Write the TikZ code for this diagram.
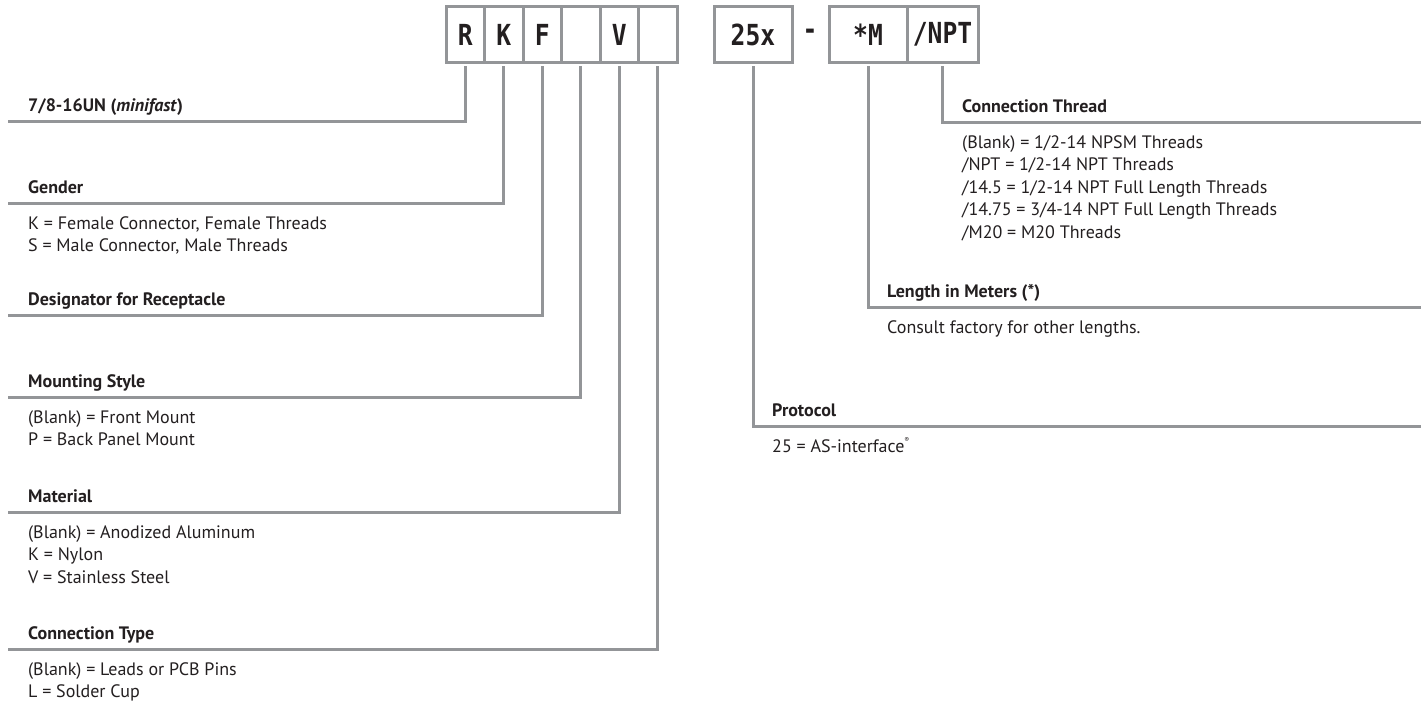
\documentclass[tikz,border=0pt]{standalone}
\usepackage{fontspec}
\usepackage{graphicx}
\setmainfont{PT Sans}
\newfontfamily\codefont{DejaVu Sans Mono}
\definecolor{linegray}{HTML}{939598}
\definecolor{ink}{HTML}{231F20}
\newcommand{\cde}[1]{\scalebox{0.85}[1]{#1}}
\tikzset{
  conn/.style={draw=linegray, line width=3pt},
  codebox/.style={draw=linegray, line width=3pt, minimum height=56pt, outer sep=0pt,
    inner sep=0pt, text=ink, font=\codefont\bfseries\fontsize{29}{29}\selectfont},
  codetxt/.style={inner sep=0pt, text=ink, font=\codefont\bfseries\fontsize{29}{29}\selectfont},
  head/.style={anchor=base west, inner sep=0pt, text=ink, font=\bfseries\fontsize{18}{22}\selectfont},
  item/.style={anchor=base west, inner sep=0pt, text=ink, font=\fontsize{18}{22}\selectfont}
}
\begin{document}
\begin{tikzpicture}[x=1pt,y=-1pt]
\useasboundingbox (0,0) rectangle (1421,702);
% code boxes
\node[codebox, minimum width=38.5pt] (bR) at (465.25,34.5) {\cde{R}};
\node[codebox, minimum width=38.5pt] (bK) at (503.75,34.5) {\cde{K}};
\node[codebox, minimum width=38.5pt] (bF) at (542.25,34.5) {\cde{F}};
\node[codebox, minimum width=38.5pt] (bM) at (580.75,34.5) {};
\node[codebox, minimum width=38.5pt] (bV) at (619.25,34.5) {\cde{V}};
\node[codebox, minimum width=38.5pt] (bC) at (657.75,34.5) {};
\node[codebox, minimum width=78pt] (bP) at (753,34.5) {\cde{25x}};
\node[codetxt] (dash) at (810,34.5) {\cde{-}};
\node[codebox, minimum width=78pt] (bL) at (868,34.5) {\cde{*M}};
\node[codebox, minimum width=71pt] (bT) at (942.5,34.5) {\cde{/NPT}};
% line ends
\coordinate (eR) at (8,121);
\coordinate (eK) at (8,203);
\coordinate (eF) at (8,315);
\coordinate (eM) at (8,397);
\coordinate (eV) at (8,512);
\coordinate (eC) at (8,649);
\coordinate (eT) at (1421,122);
\coordinate (eL) at (1421,307);
\coordinate (eP) at (1421,426);
% connectors
\draw[conn] ([yshift=-3.5pt]bR.south) |- (eR);
\draw[conn] ([yshift=-3.5pt]bK.south) |- (eK);
\draw[conn] ([yshift=-3.5pt]bF.south) |- (eF);
\draw[conn] ([yshift=-3.5pt]bM.south) |- (eM);
\draw[conn] ([yshift=-3.5pt]bV.south) |- (eV);
\draw[conn] ([yshift=-3.5pt]bC.south) |- (eC);
\draw[conn] ([yshift=-3.5pt]bP.south) |- (eP);
\draw[conn] ([yshift=-3.5pt]bL.south) |- (eL);
\draw[conn] ([yshift=-3.5pt]bT.south) |- (eT);
% left texts
\node[head] (hR) at (28,111) {7/8-16UN (\textit{minifast})};
\node[head] (hK) at (28,193) {Gender};
\node[item] (iK1) at (28,229) {K = Female Connector, Female Threads};
\node[item] (iK2) at (28,251.5) {S = Male Connector, Male Threads};
\node[head] (hF) at (28,305) {Designator for Receptacle};
\node[head] (hM) at (28,387) {Mounting Style};
\node[item] (iM1) at (28,423) {(Blank) = Front Mount};
\node[item] (iM2) at (28,445.5) {P = Back Panel Mount};
\node[head] (hV) at (28,502) {Material};
\node[item] (iV1) at (28,538) {(Blank) = Anodized Aluminum};
\node[item] (iV2) at (28,560.5) {K = Nylon};
\node[item] (iV3) at (28,583) {V = Stainless Steel};
\node[head] (hC) at (28,639) {Connection Type};
\node[item] (iC1) at (28,675) {(Blank) = Leads or PCB Pins};
\node[item] (iC2) at (28,697.5) {L = Solder Cup};
% right texts
\node[head] (hT) at (962,112) {Connection Thread};
\node[item] (iT1) at (962,148) {(Blank) = 1/2-14 NPSM Threads};
\node[item] (iT2) at (962,170.5) {/NPT = 1/2-14 NPT Threads};
\node[item] (iT3) at (962,193) {/14.5 = 1/2-14 NPT Full Length Threads};
\node[item] (iT4) at (962,215.5) {/14.75 = 3/4-14 NPT Full Length Threads};
\node[item] (iT5) at (962,238) {/M20 = M20 Threads};
\node[head] (hL) at (887,297) {Length in Meters (*)};
\node[item] (iL1) at (887,333) {Consult factory for other lengths.};
\node[head] (hP) at (772,416) {Protocol};
\node[item] (iP1) at (772,452) {25 = AS-interface\raisebox{0.55em}{\fontsize{7}{7}\selectfont ®}};
\end{tikzpicture}
\end{document}
